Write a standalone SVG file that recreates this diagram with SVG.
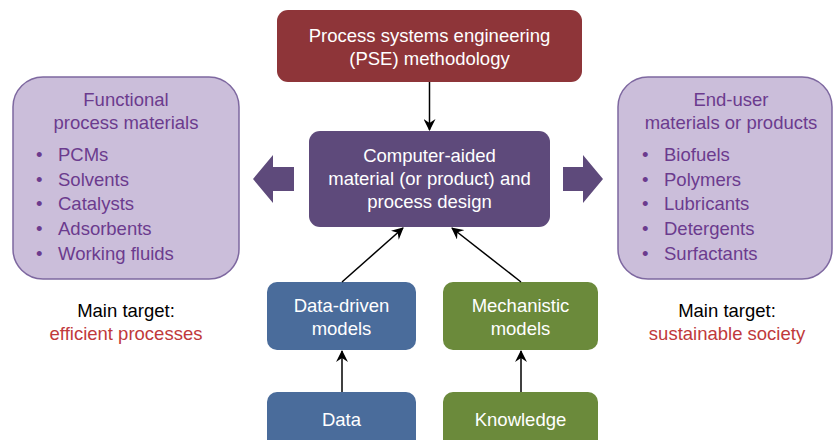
<svg xmlns="http://www.w3.org/2000/svg" width="833" height="440" viewBox="0 0 833 440">
<defs>
<marker id="ah" viewBox="0 0 12 12" refX="11" refY="6" markerWidth="12" markerHeight="12" markerUnits="userSpaceOnUse" orient="auto">
<path d="M0,0 L12,6 L0,12 L4,6 Z" fill="#000"/>
</marker>
<style>
text{font-family:"Liberation Sans",Arial,sans-serif;font-size:18.5px}
.w{fill:#fff;text-anchor:middle}
.p{fill:#6B3B8E}
.pc{fill:#6B3B8E;text-anchor:middle}
.k{fill:#000;text-anchor:middle}
.r{fill:#C0393B;text-anchor:middle}
.lav{fill:#CBBEDA;stroke:#7E68A0;stroke-width:1.5}
.con{stroke:#000;stroke-width:1.5;fill:none;marker-end:url(#ah)}
.big{fill:#5E4A7B}
</style>
</defs>
<rect width="833" height="440" fill="#fff"/>

<g id="pse">
<rect x="277" y="10" width="305" height="72" rx="11" fill="#8E3539"/>
<text class="w" x="429.5" y="42">Process systems engineering</text>
<text class="w" x="429.5" y="65">(PSE) methodology</text>
</g>

<g id="camd">
<rect x="309" y="131" width="241" height="96" rx="11" fill="#5E4A7B"/>
<text class="w" x="429.5" y="162">Computer-aided</text>
<text class="w" x="429.5" y="185">material (or product) and</text>
<text class="w" x="429.5" y="208">process design</text>
</g>

<g id="functional">
<rect class="lav" x="13" y="77" width="226" height="202" rx="30"/>
<text class="pc" x="126" y="106">Functional</text>
<text class="pc" x="126" y="129">process materials</text>
<text class="p" x="36" y="161">•</text><text class="p" x="58" y="161">PCMs</text>
<text class="p" x="36" y="185.7">•</text><text class="p" x="58" y="185.7">Solvents</text>
<text class="p" x="36" y="210.4">•</text><text class="p" x="58" y="210.4">Catalysts</text>
<text class="p" x="36" y="235">•</text><text class="p" x="58" y="235">Adsorbents</text>
<text class="p" x="36" y="259.8">•</text><text class="p" x="58" y="259.8">Working fluids</text>
</g>

<g id="enduser">
<rect class="lav" x="618" y="77" width="214" height="202" rx="30"/>
<text class="pc" x="731" y="106">End-user</text>
<text class="pc" x="731" y="129">materials or products</text>
<text class="p" x="642" y="161">•</text><text class="p" x="664" y="161">Biofuels</text>
<text class="p" x="642" y="185.7">•</text><text class="p" x="664" y="185.7">Polymers</text>
<text class="p" x="642" y="210.4">•</text><text class="p" x="664" y="210.4">Lubricants</text>
<text class="p" x="642" y="235">•</text><text class="p" x="664" y="235">Detergents</text>
<text class="p" x="642" y="259.8">•</text><text class="p" x="664" y="259.8">Surfactants</text>
</g>

<g id="target-left">
<text class="k" x="126" y="317">Main target:</text>
<text class="r" x="126" y="340">efficient processes</text>
</g>

<g id="target-right">
<text class="k" x="727" y="317">Main target:</text>
<text class="r" x="727" y="340">sustainable society</text>
</g>

<g id="datadriven">
<rect x="267" y="282" width="149" height="68" rx="10" fill="#4A6C9B"/>
<text class="w" x="341.5" y="312">Data-driven</text>
<text class="w" x="341.5" y="335">models</text>
</g>

<g id="mechanistic">
<rect x="443" y="282" width="155" height="68" rx="10" fill="#6B8A3B"/>
<text class="w" x="520.5" y="312">Mechanistic</text>
<text class="w" x="520.5" y="335">models</text>
</g>

<g id="data">
<rect x="267" y="392" width="149" height="60" rx="10" fill="#4A6C9B"/>
<text class="w" x="341.5" y="426">Data</text>
</g>

<g id="knowledge">
<rect x="443" y="392" width="155" height="60" rx="10" fill="#6B8A3B"/>
<text class="w" x="520.5" y="426">Knowledge</text>
</g>

<g id="connectors">
<line class="con" x1="429.5" y1="82" x2="429.5" y2="130"/>
<line class="con" x1="342" y1="282" x2="403" y2="228"/>
<line class="con" x1="521" y1="282" x2="452" y2="228"/>
<line class="con" x1="342" y1="392" x2="342" y2="351"/>
<line class="con" x1="521" y1="392" x2="521" y2="351"/>
<polygon class="big" points="294,167 273,167 273,155 253,179 273,203 273,191 294,191"/>
<polygon class="big" points="563,167 583,167 583,155 603,179 583,203 583,191 563,191"/>
</g>
</svg>
